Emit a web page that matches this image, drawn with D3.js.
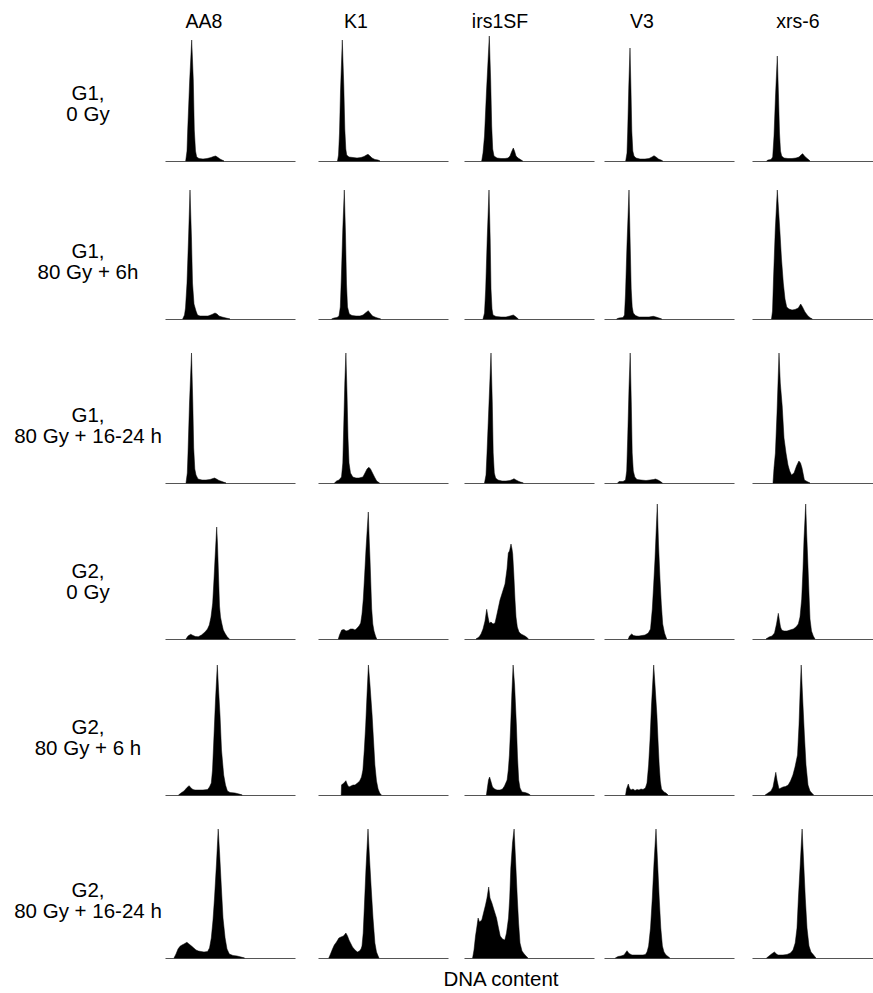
<!DOCTYPE html>
<html>
<head>
<meta charset="utf-8">
<script src="https://cdn.jsdelivr.net/npm/d3@7"></script>
<style>
  html, body { margin: 0; padding: 0; background: #fff; }
  svg { display: block; }
  text { font-family: "Liberation Sans", Arial, Helvetica, sans-serif; fill: #000; }
</style>
</head>
<body>
<svg id="chart" width="873" height="993"></svg>
<script>
// ---------------- DATA ----------------
// Cell lines (columns)
const cellLines = ["AA8", "K1", "irs1SF", "V3", "xrs-6"];
// Conditions (rows), each label split into two lines
const conditions = [
  ["G1,", "0 Gy"],
  ["G1,", "80 Gy + 6h"],
  ["G1,", "80 Gy + 16-24 h"],
  ["G2,", "0 Gy"],
  ["G2,", "80 Gy + 6 h"],
  ["G2,", "80 Gy + 16-24 h"]
];
const xAxisLabel = "DNA content";

// Histogram outlines: [DNA content channel, cell count (a.u.)], one list per cell line
const histG1_0Gy = [
  [[20.7,0],[22,10],[22.7,31],[24.7,81],[26.7,121],[28.3,81],[29.3,31],[30.5,10],[31.7,4],[34,2.5],[38,2],[42,2.5],[46,3.5],[48.5,4.5],[50.7,5],[53,3.5],[55,2],[57,1],[59,0]],
  [[19.5,0],[20.5,6],[21.5,28],[22.5,70],[24.3,121],[25.8,75],[26.8,32],[27.8,12],[28.7,6],[31,4],[35,3.5],[39,3],[43,3.5],[46,4.5],[48.5,6],[50,6.7],[52,5],[54,3],[57,1.5],[60,1],[62,0]],
  [[17.7,0],[19,8],[20.5,25],[22.5,70],[25.3,125],[26.7,80],[27.7,35],[28.7,12],[30,5],[33,3],[37,2.5],[41,2.5],[44,3],[46,5],[47.5,9],[49.3,13],[50.5,10],[52,5],[54,3],[56.5,1.5],[58.7,0]],
  [[21.7,0],[23,8],[23.7,30],[24.8,75],[26,113],[27,70],[27.8,30],[28.8,10],[30,5],[32,3],[36,2],[41,2],[45,2.5],[48,4],[50,5.3],[52,4],[54.5,2],[57,1],[58.7,0]],
  [[14.7,0],[16,1],[19,1.5],[20.7,4],[22,25],[23.5,65],[25.3,105],[26.5,65],[27.5,28],[28.5,10],[29.7,5],[32,3],[36,2.5],[40,2.5],[44,3],[47,4],[49.5,6.5],[50.7,7.3],[52.5,5],[54.5,3],[56.5,1.5],[58,0]]
];
const histG1_80Gy6h = [
  [[17.7,0],[19.5,4],[20.5,11],[22,36],[23.5,80],[25,129],[26.5,80],[27.5,36],[29,15],[31,8],[32.5,4],[35,3],[39,3],[43,3],[47,4.5],[50,6],[52,5],[54,3],[57,2],[61,1],[65,0]],
  [[13.7,0],[16,1],[19,1.5],[21,3],[22.3,12],[23.3,40],[24.8,90],[26.3,129],[27.5,85],[28.5,35],[29.5,12],[31.3,5],[34,3.5],[38,3],[42,3],[45,4],[48,6.5],[50.3,8.3],[52,6],[54.5,3],[58,1.5],[62.7,0]],
  [[19,0],[20.5,6],[21.7,30],[23.2,80],[25,129],[26.2,80],[27,30],[28,10],[29,4],[32,2.5],[37,2],[42,2],[46,3],[49.3,4],[51.5,2.5],[54.3,0]],
  [[12.7,0],[15,1],[19,1.5],[20.5,4],[21.5,25],[23,75],[25,129],[26.2,75],[27.2,30],[28.2,12],[29.3,6],[31.5,3.5],[35,2],[40,2],[45,2],[49.3,2.7],[52,2],[55,1],[57.7,0]],
  [[19.5,0],[20.5,8],[21.5,40],[23.3,90],[25.3,129],[26.5,110],[28,86],[29.5,60],[31.3,36],[33,20],[34.7,12],[37,10],[40,9],[43,9.5],[46.3,11],[48.7,15],[50.5,12],[53,7],[56,3],[58.5,1],[60.3,0]]
];
const histG1_80Gy16h = [
  [[21,0],[22.3,10],[23,30],[24.5,80],[26.5,130],[27.8,80],[28.7,35],[29.8,14],[31,8],[33,4],[37,3],[41,3],[45,3.5],[48,4.5],[49.5,5],[51.5,4],[54,2.5],[57,1.5],[61,0]],
  [[16.5,0],[18.6,2],[21,3],[23.5,6],[24.8,20],[25.8,60],[26.8,100],[27.9,130],[29,90],[30,45],[31,20],[32.5,10],[34.8,6],[38,5],[41,5],[44.9,6],[47,10],[49,14],[50.9,15.7],[52.5,14],[54.5,10],[56.5,6],[58.7,2],[61.5,0]],
  [[20.5,0],[22,8],[23,30],[25,80],[27,130],[28.3,80],[29.2,30],[30.3,10],[31.6,5],[34,3],[38,2],[42,2],[46,2.5],[48.5,3.5],[50,4.3],[52,3],[55,1.5],[59.3,0]],
  [[13.7,0],[15,1.5],[19,1.5],[21.5,3],[22.7,12],[23.7,45],[25,95],[26.2,130],[27.3,80],[28.2,30],[29.3,12],[30.8,6],[33,3.5],[37,3],[42,2.5],[46,3],[49.5,3.5],[51.5,4],[54,3],[56.5,1.5],[58.4,0]],
  [[21,0],[22,15],[23.4,30],[25,70],[27,130],[28.3,100],[30.2,77],[32,45],[34,30],[36,18],[37.7,12],[39.5,8],[42,10],[44.5,17],[46.9,22],[48.5,20],[50,15],[52.4,3],[55,1.5],[58,0]]
];
const histG2_0Gy = [
  [[21,0],[23,3],[25.7,4.7],[28,3.5],[30.5,2.5],[33.3,2.3],[36.5,4],[40,7],[42.5,10],[44.3,14],[46,22],[47.7,36],[49,60],[50,80],[51.7,112],[52.5,95],[53.3,70],[54.5,33],[55.5,22],[56.7,16],[58.3,9],[60,5.7],[62,2.5],[64.3,0]],
  [[20.3,0],[21.5,4],[23.7,9],[26,9.5],[28,8],[30,8.5],[32.5,10],[35,10],[37,9],[38.7,10.5],[41,13],[42.7,16],[44,25],[45.3,40],[46.7,65],[48,90],[50.3,127],[51.2,100],[52,80],[53,50],[53.7,30],[54.8,15],[56,8],[57.5,3],[58.7,0]],
  [[12,0],[15,2],[17,5],[19,10],[21,18],[22.7,29.7],[24,22],[25.3,15.7],[27,17],[29,15],[31,16],[33,25],[36,39],[38.5,47],[41,55],[43,70],[44.3,86],[45.5,88],[47,95],[48,90],[48.7,85],[49.8,65],[51,39],[52,22],[53.3,12],[55,7],[57,5],[60,3.5],[62.5,2],[64.3,0]],
  [[24.3,0],[25.5,3],[27.7,5],[29.5,3.5],[32,3],[35,3],[38,3.5],[41,4],[44.3,6],[46.5,10],[48.3,30],[49.7,55],[51,80],[53.3,135],[54.5,95],[56,60],[57.3,35],[58.7,15],[60.5,6],[62.7,0]],
  [[14,0],[17,2],[20,3],[22.5,6],[24.5,15],[26.3,25.7],[27.5,18],[28.5,12],[29.7,9],[32,8],[35,8],[38,9],[41.3,10],[44,12],[46.3,15],[48,22],[49.7,40],[51,70],[52,100],[53.7,135],[54.7,105],[55.7,80],[57,45],[58,20],[59.5,8],[61.3,3],[63,0]]
];
const histG2_80Gy6h = [
  [[13.6,0],[16,2],[19,4],[22,7.5],[24.2,9.3],[26,7],[28,5.5],[30,5],[34,5],[38,5],[42.6,5.5],[44.5,8],[46.3,12],[47.5,25],[48.6,50],[50.5,95],[52.3,130],[53.6,105],[55,80],[56.5,45],[58.7,20],[60.5,10],[62.4,4],[65,2.5],[70,2],[74,1],[77.2,0]],
  [[23.2,0],[23.5,10],[24.5,11],[26,12],[27.9,14.3],[29.5,10],[31,8],[33,9],[35,10],[37,10],[39.5,12],[41.7,14],[43.5,18],[44.9,25],[46.3,45],[47.7,70],[49,100],[50.4,130],[52,110],[54.1,80],[55.5,55],[56.9,30],[58.5,14],[60.1,6],[61.7,2],[63.3,0]],
  [[22.4,0],[23.5,8],[24.5,15],[25.6,18],[26.8,14],[28.5,8],[30.7,6],[33,5],[36,5],[38.5,6],[40.5,9],[43.1,15],[44.3,25],[45.4,40],[46.5,65],[47.8,100],[49.1,130],[50.6,110],[52.4,70],[53.5,38],[54.7,15],[56,7],[58,3],[61,2.5],[64,1.5],[66.2,0]],
  [[21.6,0],[22.5,6],[24.3,11],[25.5,7],[27,5],[29,6],[31,4.5],[33,5.5],[35,5],[37,6],[39,5.5],[41.4,7],[43,12],[44.6,30],[46,55],[47.5,90],[49.7,130],[51,110],[52.9,80],[54,55],[55.2,30],[56.3,14],[57.5,6],[60,3],[62,2],[64,0]],
  [[13.2,0],[16,2],[19,4],[21,8],[22.5,16],[23.8,22.7],[25,15],[27,6],[29,7],[31,8],[33.5,8.5],[36.2,10],[38.5,14],[40.9,20],[43,28],[45.5,40],[47,70],[48,100],[49.2,130],[50.5,100],[52.4,60],[54,30],[56,10],[58,4],[61.6,0]]
];
const histG2_80Gy16h = [
  [[9,0],[11,4],[13,9],[15,11.7],[17,13],[19,14],[21.9,15.7],[24,14],[26.5,12],[28.8,10],[31,8],[33.4,7],[36,6.5],[39,6],[42.6,6.5],[44.5,10],[46.3,20],[48,38],[49.5,60],[51.5,95],[53.2,129],[54.6,105],[56.4,70],[58,40],[60.1,20],[62,9],[64.3,4],[68,2.5],[72,2],[76,1],[79.5,0]],
  [[10.8,0],[12.5,4],[14.5,9],[16.3,13],[18.5,16],[20.9,20],[23,21],[25.5,22],[27.9,25],[29.5,22],[31,18],[32.5,15],[34.5,11],[37,8],[39.4,6],[41.5,7],[43,9],[44,12],[45.2,25],[46.3,50],[48,90],[50,129],[51.5,100],[53.2,70],[55,40],[56.9,15],[58.5,6],[60.1,2],[61,0]],
  [[8.6,0],[10,8],[11.5,22],[13,32],[14.1,40],[15.5,36],[17.8,38],[19.5,45],[21.5,53],[23,60],[24.7,71],[26,60],[27.9,55],[30,48],[32.5,40],[34.5,30],[36.2,22],[38.5,19],[40.8,18],[42.5,25],[44.5,40],[45.7,60],[46.8,90],[48.5,115],[50.1,129],[51.7,95],[53.3,60],[54.6,35],[56,15],[58,7],[60.2,4],[62,2],[63.9,0]],
  [[11.4,0],[14,1.5],[17,2],[20,3],[23,7.3],[25,4.5],[28,3],[32,3],[36,3],[39,3],[41.4,3.5],[43,6],[44.6,12],[46.5,30],[48.3,60],[50,95],[52,129],[53.6,95],[55.2,60],[56.8,30],[58.4,12],[60,6],[62,3],[64,1.5],[65.8,0]],
  [[14.6,0],[17,2],[19.5,4],[22.4,6],[24.5,4],[26,3],[28,3],[31,3],[35,3.5],[38.5,5],[41,8],[43.2,15],[45,30],[46.4,60],[48.3,95],[50.1,129],[51.7,95],[53.3,60],[55,30],[57,12],[59,6],[61.6,3],[63.9,0]]
];
const histograms = [histG1_0Gy, histG1_80Gy6h, histG1_80Gy16h, histG2_0Gy, histG2_80Gy6h, histG2_80Gy16h];

// ---------------- LAYOUT ----------------
const panelLeft = [165, 318, 464, 604, 752];
const panelBase = [161, 319, 483, 639, 795, 958];
const headerX = [204, 356, 500, 642, 798];
const panelW = 130, panelH = 130;
const channelDomain = [0, 130];
const countDomain = [0, 130];

const svg = d3.select("#chart");

// column headers
svg.selectAll("text.col").data(cellLines).join("text")
  .attr("class", "col")
  .attr("x", (d, i) => headerX[i])
  .attr("y", 28)
  .attr("text-anchor", "middle")
  .attr("font-size", 19.5)
  .text(d => d);

// row labels
conditions.forEach((lines, r) => {
  const t = svg.append("text")
    .attr("text-anchor", "middle")
    .attr("font-size", 20.5);
  lines.forEach((ln, k) => {
    t.append("tspan")
      .attr("x", 88)
      .attr("y", panelBase[r] - 61 + k * 21)
      .text(ln);
  });
});

// panels
histograms.forEach((row, r) => {
  row.forEach((pts, c) => {
    const x = d3.scaleLinear().domain(channelDomain).range([panelLeft[c], panelLeft[c] + panelW]);
    const y = d3.scaleLinear().domain(countDomain).range([panelBase[r], panelBase[r] - panelH]);
    const g = svg.append("g");
    // baseline axis
    const axis = d3.axisBottom(x).tickValues([]).tickSizeOuter(0);
    g.append("g")
      .attr("transform", `translate(0,${panelBase[r]})`)
      .call(axis)
      .call(s => s.select(".domain").attr("stroke", "#555").attr("stroke-width", 1.2));
    const area = d3.area()
      .x(d => x(d[0]))
      .y0(y(0))
      .y1(d => y(d[1]))
      .curve(d3.curveLinear);
    g.append("path")
      .datum(pts)
      .attr("d", area)
      .attr("fill", "#000")
      .attr("stroke", "#000")
      .attr("stroke-width", 0.5);
  });
});

// x-axis label
svg.append("text")
  .attr("x", 501)
  .attr("y", 986)
  .attr("text-anchor", "middle")
  .attr("font-size", 20.5)
  .text(xAxisLabel);
</script>
</body>
</html>
